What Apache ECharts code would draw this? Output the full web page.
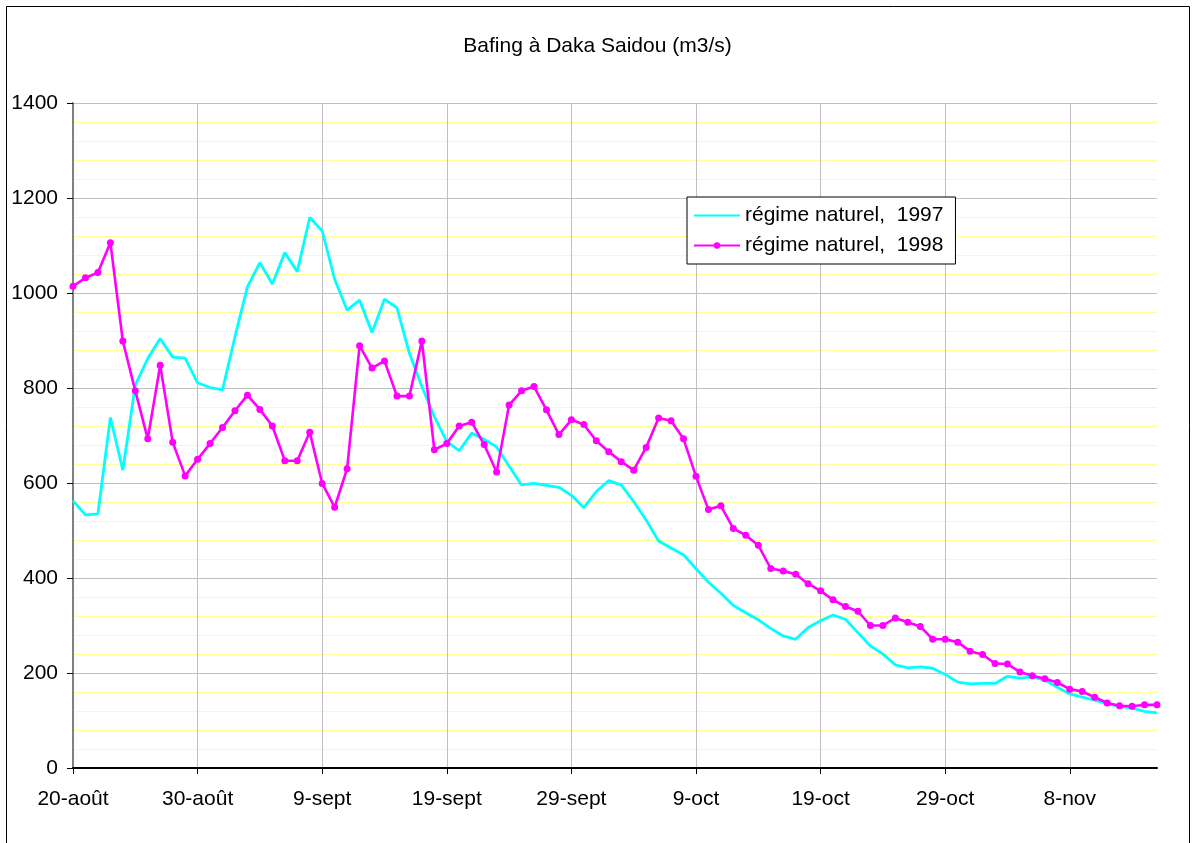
<!DOCTYPE html>
<html>
<head>
<meta charset="utf-8">
<script src="https://cdn.jsdelivr.net/npm/echarts@6/dist/echarts.min.js"></script>
<style>
html,body{margin:0;padding:0;background:#fff;}
#chart{width:1195px;height:843px;}
</style>
</head>
<body>
<div id="chart"></div>
<script>
const categories = [
 '20-août','21-août','22-août','23-août','24-août','25-août','26-août','27-août','28-août','29-août','30-août','31-août',
 '1-sept','2-sept','3-sept','4-sept','5-sept','6-sept','7-sept','8-sept','9-sept','10-sept','11-sept','12-sept','13-sept','14-sept','15-sept','16-sept','17-sept','18-sept','19-sept','20-sept','21-sept','22-sept','23-sept','24-sept','25-sept','26-sept','27-sept','28-sept','29-sept','30-sept',
 '1-oct','2-oct','3-oct','4-oct','5-oct','6-oct','7-oct','8-oct','9-oct','10-oct','11-oct','12-oct','13-oct','14-oct','15-oct','16-oct','17-oct','18-oct','19-oct','20-oct','21-oct','22-oct','23-oct','24-oct','25-oct','26-oct','27-oct','28-oct','29-oct','30-oct','31-oct',
 '1-nov','2-nov','3-nov','4-nov','5-nov','6-nov','7-nov','8-nov','9-nov','10-nov','11-nov','12-nov','13-nov','14-nov','15-nov'
];

const seriesNames = ['régime naturel,  1997', 'régime naturel,  1998'];

const values1997 = [
 563, 533, 535, 738, 627, 806, 862, 904, 865, 863,
 811, 801, 796, 908, 1013, 1064, 1019, 1085, 1045, 1159,
 1131, 1029, 964, 985, 917, 987, 969, 873, 803, 740,
 687, 668, 705, 692, 676, 636, 596, 599, 595, 591,
 574, 548, 582, 605, 596, 561, 522, 478, 463, 449,
 420, 391, 368, 342, 327, 312, 294, 278, 271, 296,
 310, 322, 313, 285, 257, 240, 217, 211, 213, 210,
 197, 181, 177, 178, 178, 193, 189, 192, 185, 170,
 156, 149, 143, 135, 130, 126, 119, 116
];

const values1998 = [
 1014, 1032, 1043, 1106, 899, 794, 693, 848, 686, 615,
 650, 683, 717, 752, 785, 755, 720, 647, 647, 707,
 599, 549, 630, 889, 842, 857, 783, 783, 899, 670,
 683, 720, 728, 681, 623, 764, 794, 803, 754, 702,
 733, 723, 689, 666, 645, 627, 675, 737, 731, 693,
 614, 544, 552, 504, 490, 469, 420, 415, 408, 388,
 373, 354, 340, 330, 300, 300, 316, 307, 298, 271,
 271, 265, 246, 239, 220, 219, 202, 194, 188, 180,
 166, 161, 149, 137, 131, 130, 133, 133
];

const chart = echarts.init(document.getElementById('chart'), null, {renderer: 'canvas'});
const FONT = '"Liberation Sans", Arial, sans-serif';

chart.setOption({
  backgroundColor: '#ffffff',
  animation: false,
  title: {
    text: 'Bafing à Daka Saidou (m3/s)',
    left: 'center',
    top: 31,
    textStyle: {fontFamily: FONT, fontSize: 21, fontWeight: 'normal', color: '#000'}
  },
  graphic: [{
    type: 'rect',
    shape: {x: 6.5, y: 6.5, width: 1183, height: 900},
    style: {fill: 'none', stroke: '#000', lineWidth: 1},
    silent: true,
    z: -1
  }],
  legend: {
    orient: 'vertical',
    left: 687,
    top: 197,
    padding: [8, 12, 8, 6],
    itemGap: 9,
    itemWidth: 46,
    itemHeight: 8,
    borderColor: '#000',
    borderWidth: 1,
    backgroundColor: '#fff',
    textStyle: {fontFamily: FONT, fontSize: 21, color: '#000'},
    data: [
      {name: seriesNames[0], itemStyle: {color: 'rgba(0,0,0,0)', borderWidth: 0}},
      {name: seriesNames[1]}
    ]
  },
  grid: {left: 73, right: 38, top: 103, bottom: 75, containLabel: false},
  xAxis: {
    type: 'category',
    data: categories,
    boundaryGap: false,
    axisLine: {lineStyle: {color: '#000', width: 2}},
    axisTick: {show: true, interval: 9, length: 6, lineStyle: {color: '#000'}},
    axisLabel: {interval: 9, margin: 21, fontFamily: FONT, fontSize: 21, color: '#000'},
    splitLine: {show: true, interval: 9, lineStyle: {color: '#c0c0c0', width: 1}}
  },
  yAxis: {
    type: 'value',
    min: 0,
    max: 1400,
    interval: 200,
    axisLine: {show: true, lineStyle: {color: '#808080', width: 2}},
    axisTick: {show: true, length: 6, lineStyle: {color: '#000'}},
    axisLabel: {margin: 15, fontFamily: FONT, fontSize: 21, color: '#000', formatter: v => String(v)},
    splitLine: {show: true, lineStyle: {color: '#c0c0c0', width: 1}},
    minorTick: {show: false, splitNumber: 5},
    minorSplitLine: {show: true, lineStyle: {color: '#ffff99', width: 1}}
  },
  series: [
    {
      name: seriesNames[0],
      type: 'line',
      data: values1997,
      symbol: 'none',
      lineStyle: {color: '#00ffff', width: 2.8},
      itemStyle: {color: '#00ffff'},
      z: 2
    },
    {
      name: seriesNames[1],
      type: 'line',
      data: values1998,
      symbol: 'circle',
      symbolSize: 7,
      showAllSymbol: true,
      lineStyle: {color: '#ff00ff', width: 2.6},
      itemStyle: {color: '#ff00ff'},
      z: 3
    }
  ]
});
</script>
</body>
</html>
